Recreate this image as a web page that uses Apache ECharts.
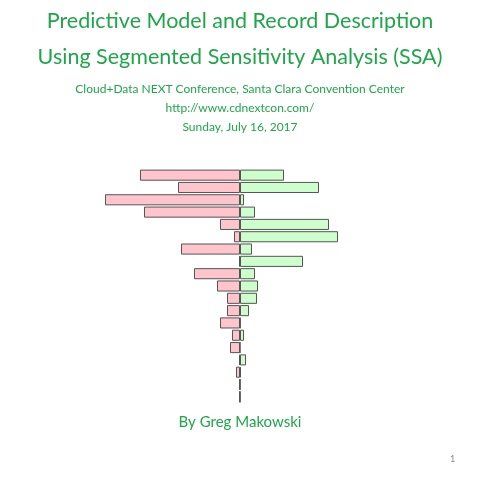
<!DOCTYPE html>
<html><head><meta charset="utf-8">
<script src="https://cdn.jsdelivr.net/npm/echarts@6/dist/echarts.min.js"></script>
<style>html,body{margin:0;background:#fff}#c{width:480px;height:480px}</style>
</head><body><div id="c"></div>
<script>
// segment sensitivity, top row first
const segments = ['S1','S2','S3','S4','S5','S6','S7','S8','S9','S10','S11','S12','S13','S14','S15','S16','S17','S18','S19'];
const negative = [-100,-62,-135,-96,-20,-6,-59,-1,-46,-23,-13,-13,-20,-8,-10,-1,-4,-1,-0.5];
const positive = [44,79,4,15,89,98,12,63,15,18,17,9,0.5,4,0,6,1,0.3,0];

const green = '#1fa64a';
const font = 'Lato';
const chart = echarts.init(document.getElementById('c'));
const txt = (y, s, size, color, x) => ({
  type: 'text', left: x === undefined ? 'center' : x, top: y,
  style: { text: s, fontSize: size, fill: color || green, fontFamily: font }
});
chart.setOption({
  animation: false,
  grid: { left: 100, width: 280, top: 169, height: 234 },
  xAxis: { type: 'value', min: -140, max: 140, show: false },
  yAxis: { type: 'category', data: segments, inverse: true, show: false },
  series: [
    { type: 'bar', data: negative, barGap: '-100%', barCategoryGap: '10%',
      itemStyle: { color: '#ffc4cc', borderColor: '#555', borderWidth: 1 } },
    { type: 'bar', data: positive,
      itemStyle: { color: '#ccffcc', borderColor: '#555', borderWidth: 1 } }
  ],
  graphic: [
    txt(10, 'Predictive Model and Record Description', 21.5),
    txt(46, 'Using Segmented Sensitivity Analysis (SSA)', 21.5),
    txt(83, 'Cloud+Data NEXT Conference, Santa Clara Convention Center', 12),
    txt(102, 'http://www.cdnextcon.com/', 12),
    txt(121, 'Sunday, July 16, 2017', 12),
    txt(415, 'By Greg Makowski', 15),
    txt(455, '1', 9, '#888', 450)
  ]
});
</script></body></html>
